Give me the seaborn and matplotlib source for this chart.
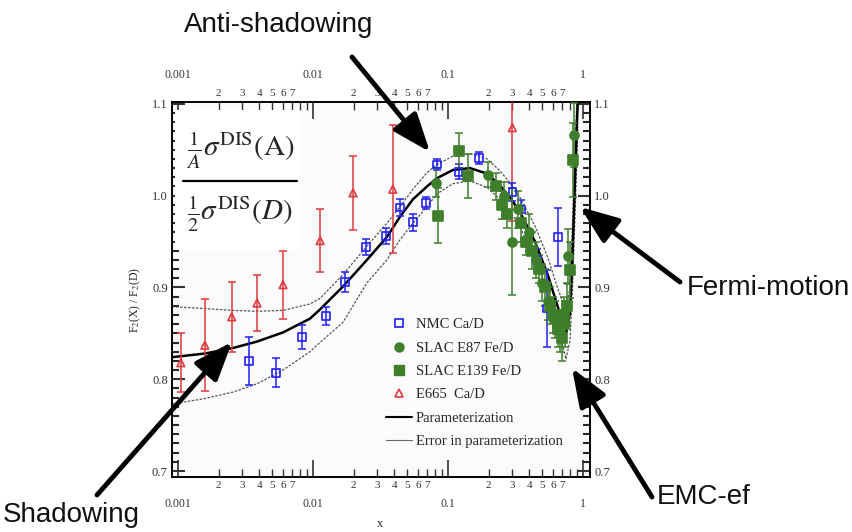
import math
import matplotlib
matplotlib.use('Agg')
import matplotlib.pyplot as plt
import matplotlib.ticker as mticker
from matplotlib.lines import Line2D
from matplotlib.patches import Rectangle
import seaborn as sns

# NMC Ca/D
nmc_x = [0.00336, 0.0053, 0.0083, 0.0125, 0.0173, 0.0247, 0.0348, 0.044, 0.055,
         0.0687, 0.083, 0.12, 0.17, 0.30, 0.35, 0.457, 0.54, 0.65]
nmc_y = [0.820, 0.807, 0.846, 0.869, 0.906, 0.944, 0.956, 0.987, 0.971,
         0.992, 1.034, 1.026, 1.041, 1.004, 0.985, 0.930, 0.877, 0.955]
nmc_e = [0.026, 0.016, 0.013, 0.010, 0.011, 0.009, 0.009, 0.009, 0.009,
         0.007, 0.006, 0.008, 0.007, 0.010, 0.010, 0.012, 0.042, 0.032]

# SLAC E87 Fe/D
e87_x = [0.081, 0.198, 0.26, 0.30, 0.33, 0.40, 0.45, 0.50, 0.55, 0.62, 0.68, 0.74, 0.78, 0.86]
e87_y = [1.014, 1.023, 1.000, 0.950, 0.985, 0.960, 0.930, 0.905, 0.885, 0.865, 0.850, 0.860, 0.934, 1.066]
e87_e = [0.016, 0.014, 0.015, 0.058, 0.020, 0.020, 0.020, 0.020, 0.020, 0.020, 0.020, 0.025, 0.030, 0.035]

# SLAC E139 Fe/D
e139_x = [0.085, 0.12, 0.141, 0.225, 0.25, 0.275, 0.35, 0.38, 0.42, 0.47, 0.52,
          0.57, 0.60, 0.65, 0.70, 0.72, 0.76, 0.80, 0.84]
e139_y = [0.978, 1.049, 1.021, 1.010, 0.990, 0.980, 0.970, 0.950, 0.940, 0.920, 0.900,
          0.880, 0.870, 0.855, 0.845, 0.870, 0.880, 0.919, 1.039]
e139_e = [0.030, 0.019, 0.024, 0.015, 0.015, 0.015, 0.020, 0.015, 0.020, 0.015, 0.020,
          0.020, 0.020, 0.020, 0.025, 0.020, 0.025, 0.030, 0.040]

# E665 Ca/D
e665_x = [0.00105, 0.00158, 0.0025, 0.00385, 0.006, 0.0113, 0.0198, 0.039, 0.30]
e665_y = [0.818, 0.837, 0.868, 0.883, 0.903, 0.951, 1.003, 1.007, 1.074]
e665_e = [0.032, 0.050, 0.038, 0.031, 0.037, 0.034, 0.040, 0.070, 0.102]

# parameterization and its error band
curve_x = [0.000903, 0.001585, 0.002553, 0.003846, 0.006, 0.0095, 0.01127, 0.01668,
           0.0251, 0.0353, 0.0441, 0.055, 0.0699, 0.0829, 0.1089, 0.1455, 0.1945,
           0.2427, 0.2878, 0.3414, 0.4409, 0.5508, 0.653, 0.7484, 0.8012, 0.829,
           0.8578, 0.8874, 0.9183]
param_y = [0.824, 0.828, 0.834, 0.841, 0.851, 0.866, 0.876, 0.901, 0.930, 0.955, 0.977,
           0.996, 1.010, 1.019, 1.028, 1.030, 1.024, 1.011, 0.998, 0.982, 0.950, 0.913,
           0.878, 0.850, 0.872, 0.920, 0.985, 1.050, 1.110]
band_hi = [0.879, 0.877, 0.875, 0.874, 0.875, 0.882, 0.888, 0.914, 0.945, 0.970, 0.988,
           1.007, 1.025, 1.034, 1.043, 1.046, 1.040, 1.027, 1.014, 0.998, 0.967, 0.932,
           0.898, 0.875, 0.900, 0.950, 1.020, 1.080, 1.140]
band_lo = [0.773, 0.779, 0.786, 0.795, 0.810, 0.830, 0.840, 0.862, 0.905, 0.930, 0.952,
           0.970, 0.988, 1.002, 1.013, 1.016, 1.009, 0.996, 0.983, 0.966, 0.932, 0.895,
           0.858, 0.822, 0.842, 0.886, 0.945, 1.010, 1.075]

labels = ['NMC Ca/D', 'SLAC E87 Fe/D', 'SLAC E139 Fe/D', 'E665  Ca/D',
          'Parameterization', 'Error in parameterization']

blue = '#2020f5'
green = '#3f7f2c'
red = '#e0393e'

sns.set_theme(style='ticks')
plt.rcParams['font.family'] = ['Liberation Serif', 'DejaVu Serif']
plt.rcParams['mathtext.fontset'] = 'stix'

W, H = 852, 532
fig = plt.figure(figsize=(W / 100, H / 100), dpi=100, facecolor='white')
ax = fig.add_axes([172 / W, 1 - 477 / H, 418 / W, 375 / H])
ax.set_facecolor('#fbfbfb')
ax.set_xscale('log')
ax.set_xlim(0.000903, 1.127)
ax.set_ylim(0.6935, 1.102)

# formula box
ax.add_patch(Rectangle((0.007, 0.605), 0.30, 0.374, transform=ax.transAxes,
                       facecolor='white', edgecolor='none', zorder=1))

# curves
for ys, lw, ls, col in [(band_hi, 0.9, (0, (2, 1.2)), '#555555'),
                        (band_lo, 0.9, (0, (2, 1.2)), '#555555'),
                        (param_y, 1.8, '-', 'black')]:
    sns.lineplot(x=curve_x, y=ys, ax=ax, color=col, linewidth=lw, linestyle=ls,
                 estimator=None, sort=False, legend=False, zorder=2)

# data with error bars
sets = [
    (e665_x, e665_y, e665_e, red, '^', 'none', 5.5),
    (nmc_x, nmc_y, nmc_e, blue, 's', 'none', 5.5),
    (e139_x, e139_y, e139_e, green, 's', green, 6.5),
    (e87_x, e87_y, e87_e, green, 'o', green, 6.5),
]
for xs, ys, es, col, mk, fc, ms in sets:
    ax.errorbar(xs, ys, yerr=es, fmt='none', ecolor=col, elinewidth=1.3,
                capsize=3, capthick=1.3, alpha=0.85, zorder=3)
    sns.scatterplot(x=xs, y=ys, ax=ax, marker=mk, s=ms ** 2, facecolors=fc,
                    edgecolors=col, linewidths=1.2, zorder=4, legend=False)

# ticks
def minor_fmt(v, pos):
    d = int(round(v / 10 ** math.floor(math.log10(v) + 1e-9)))
    return str(d) if 2 <= d <= 7 else ''

ax.xaxis.set_major_locator(mticker.LogLocator(base=10, numticks=10))
ax.xaxis.set_minor_locator(mticker.LogLocator(base=10, subs=range(2, 10), numticks=30))
ax.xaxis.set_major_formatter(mticker.FuncFormatter(lambda v, p: f'{v:g}'))
ax.xaxis.set_minor_formatter(mticker.FuncFormatter(minor_fmt))
ax.yaxis.set_major_locator(mticker.MultipleLocator(0.1))
ax.yaxis.set_minor_locator(mticker.MultipleLocator(0.01))
ax.yaxis.set_major_formatter(mticker.FormatStrFormatter('%.1f'))

ax.tick_params(axis='x', which='major', direction='in', length=12, width=1.2, pad=15,
               labelsize=8.5, top=True, labeltop=True, bottom=True, colors='#333333')
ax.tick_params(axis='x', which='minor', direction='in', length=6, width=1.0, pad=3,
               labelsize=8, top=True, labeltop=True, bottom=True, colors='#333333')
ax.tick_params(axis='y', which='major', direction='in', length=9, width=1.5, pad=3,
               labelsize=9, left=True, right=True, labelright=True, colors='#333333')
ax.tick_params(axis='y', which='minor', direction='in', length=5, width=1.5,
               left=True, right=True)
for s in ax.spines.values():
    s.set_linewidth(1.4)
    s.set_color('black')

ax.set_xlabel('x', fontsize=9)
ax.xaxis.set_label_coords((380 - 172) / 418, 1 - (518 - 102) / 375)
ax.set_ylabel(r'F$_2$(X) / F$_2$(D)', fontsize=8.5)
ax.yaxis.set_label_coords((143 - 172) / 418, 1 - (300 - 102) / 375)

# formula
ax.text((240 - 172) / 418, 1 - (150 - 102) / 375,
        r'$\frac{1}{A}\sigma^{\mathrm{DIS}}(\mathrm{A})$',
        transform=ax.transAxes, ha='center', va='center', fontsize=21, zorder=5)
ax.plot([(183 - 172) / 418, (297 - 172) / 418], [1 - (181 - 102) / 375] * 2,
        transform=ax.transAxes, color='black', lw=1.6, zorder=5)
ax.text((240 - 172) / 418, 1 - (214 - 102) / 375,
        r'$\frac{1}{2}\sigma^{\mathrm{DIS}}(D)$',
        transform=ax.transAxes, ha='center', va='center', fontsize=21, zorder=5)

# legend
handles = [
    Line2D([], [], ls='none', marker='s', mfc='none', mec=blue, ms=5.5, mew=1.2),
    Line2D([], [], ls='none', marker='o', color=green, ms=6.5),
    Line2D([], [], ls='none', marker='s', color=green, ms=6.5),
    Line2D([], [], ls='none', marker='^', mfc='none', mec=red, ms=5.5, mew=1.2),
    Line2D([], [], color='black', lw=1.5),
    Line2D([], [], color='#666666', lw=0.8),
]
ax.legend(handles, labels, loc='upper left',
          bbox_to_anchor=((386 - 172) / 418, 1 - (318 - 102) / 375),
          frameon=False, fontsize=10.5, handlelength=1.8, handletextpad=0.25,
          labelspacing=0.7, borderaxespad=0, borderpad=0)

# annotations
arrow = dict(arrowstyle='-|>,head_length=1.3,head_width=0.5', lw=3.5, color='black',
             mutation_scale=18, shrinkA=0, shrinkB=0)
notes = [
    ('Anti-shadowing', (184, 25), (352, 57), (430, 152)),
    ('Shadowing', (3, 515), (97, 495), (232, 342)),
    ('Fermi-motion', (687, 288), (680, 282), (580, 207)),
    ('EMC-ef', (657, 497), (652, 497), (572, 368)),
]
for txt, (tx, ty), (ax0, ay0), (ax1, ay1) in notes:
    fig.text(tx / W, 1 - ty / H, txt, ha='left', va='center', fontsize=20,
             family=['Liberation Sans', 'DejaVu Sans'], color='#111111')
    ax.annotate('', xy=(ax1 / W, 1 - ay1 / H), xytext=(ax0 / W, 1 - ay0 / H),
                xycoords='figure fraction', textcoords='figure fraction',
                arrowprops=arrow, annotation_clip=False, zorder=10)

fig.savefig('out.png', dpi=100, facecolor='white')
